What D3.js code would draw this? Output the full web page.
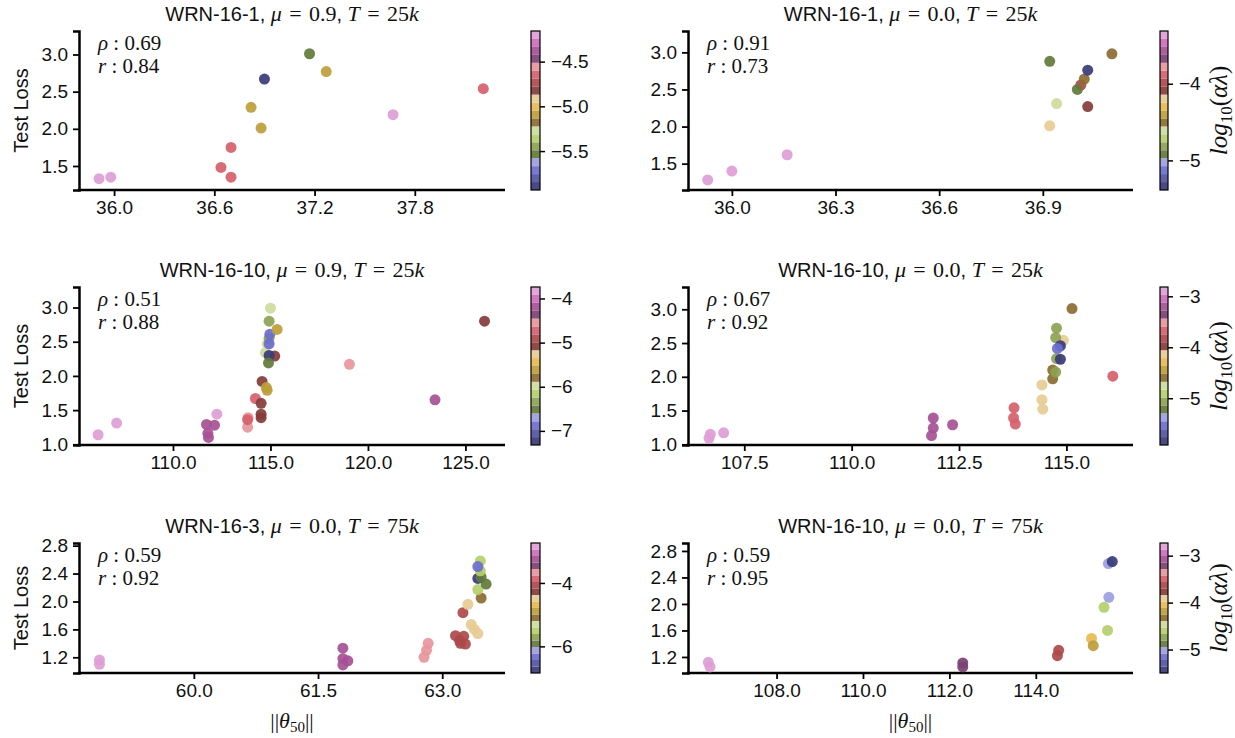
<!DOCTYPE html>
<html>
<head>
<meta charset="utf-8">
<script src="https://cdn.jsdelivr.net/npm/d3@7"></script>
<style>
  body { margin: 0; background: #fff; }
  svg text { font-family: "Liberation Sans", Arial, sans-serif; fill: #111; }
  .serif { font-family: "Liberation Serif", "Times New Roman", serif; }
</style>
</head>
<body>
<svg id="chart" width="1235" height="738"></svg>
<script>
// matplotlib tab20b, index 0 = bottom of the colour bar
const tab20b = ["#393b79", "#5254a3", "#6b6ecf", "#9c9ede", "#637939", "#8ca252", "#b5cf6b", "#cedb9c",
                "#8c6d31", "#bd9e39", "#e7ba52", "#e7cb94", "#843c39", "#ad494a", "#d6616b", "#e7969c",
                "#7b4173", "#a55194", "#ce6dbd", "#de9ed6"];

// WRN-16-1, mu = 0.9, T = 25k
const p1Norm  = [35.91, 35.98, 36.64, 36.70, 36.70, 36.82, 36.88, 36.90, 37.17, 37.27, 37.67, 38.21];
const p1Loss  = [1.33, 1.35, 1.48, 1.35, 1.75, 2.29, 2.01, 2.67, 3.01, 2.77, 2.19, 2.54];
const p1LogAL = [-4.20, -4.20, -4.65, -4.65, -4.65, -5.09, -5.09, -5.89, -5.54, -5.09, -4.20, -4.65];

// WRN-16-1, mu = 0.0, T = 25k
const p2Norm  = [35.93, 36.00, 36.16, 36.92, 36.92, 36.94, 37.01, 37.00, 37.02, 37.03, 37.03, 37.10];
const p2Loss  = [1.28, 1.40, 1.62, 2.88, 2.01, 2.31, 2.56, 2.50, 2.64, 2.76, 2.27, 2.98];
const p2LogAL = [-3.36, -3.36, -3.36, -4.92, -4.19, -4.61, -3.99, -4.92, -4.51, -5.33, -4.09, -4.51];

// WRN-16-10, mu = 0.9, T = 25k
const p3Norm  = [106.16, 107.11, 112.25, 111.72, 111.79, 111.82, 112.13, 113.83, 113.85, 113.83, 114.23,
                 114.52, 114.52, 114.52, 114.57, 114.83, 114.79, 114.74, 115.22, 114.93, 114.90, 114.83,
                 114.93, 114.97, 114.93, 115.34, 114.93, 115.00, 119.05, 123.44, 125.98];
const p3Loss  = [1.14, 1.31, 1.44, 1.29, 1.16, 1.10, 1.28, 1.25, 1.39, 1.36, 1.67,
                 1.39, 1.44, 1.60, 1.92, 1.79, 1.83, 2.34, 2.29, 2.30, 2.19, 2.47,
                 2.55, 2.61, 2.47, 2.68, 2.80, 2.99, 2.17, 1.65, 2.80];
const p3LogAL = [-3.83, -3.83, -3.83, -4.19, -4.19, -4.19, -4.19, -4.55, -4.55, -4.73, -4.73,
                 -5.08, -5.08, -5.08, -5.08, -5.62, -5.62, -5.98, -5.08, -7.23, -6.52, -5.98,
                 -6.34, -6.87, -6.87, -5.62, -6.34, -5.98, -4.55, -4.19, -5.08];

// WRN-16-10, mu = 0.0, T = 25k
const p4Norm  = [106.68, 106.71, 107.02, 111.90, 111.90, 111.86, 112.35, 113.78, 113.77, 113.81,
                 114.43, 114.43, 114.45, 114.68, 114.68, 114.75, 114.93, 114.77, 114.86, 114.77,
                 114.75, 114.86, 114.79, 115.13, 116.08];
const p4Loss  = [1.09, 1.15, 1.17, 1.39, 1.24, 1.13, 1.29, 1.54, 1.39, 1.30,
                 1.88, 1.66, 1.52, 1.97, 2.10, 2.07, 2.54, 2.27, 2.26, 2.72,
                 2.58, 2.46, 2.42, 3.01, 2.01];
const p4LogAL = [-2.90, -2.90, -2.90, -3.21, -3.21, -3.21, -3.21, -3.67, -3.67, -3.67,
                 -4.14, -4.14, -4.14, -4.60, -4.60, -5.07, -4.14, -5.07, -5.84, -5.07,
                 -5.07, -5.84, -5.53, -4.60, -3.67];

// WRN-16-3, mu = 0.0, T = 75k
const p5Norm  = [58.86, 58.86, 61.80, 61.80, 61.86, 61.80, 62.83, 62.81, 62.78,
                 63.16, 63.21, 63.28, 63.26, 63.22, 63.25, 63.31, 63.35, 63.39, 63.43,
                 63.47, 63.43, 63.53, 63.43, 63.47, 63.46, 63.46, 63.43];
const p5Loss  = [1.16, 1.10, 1.33, 1.18, 1.15, 1.09, 1.40, 1.30, 1.20,
                 1.51, 1.44, 1.39, 1.50, 1.40, 1.84, 1.96, 1.67, 1.60, 1.54,
                 2.05, 2.17, 2.25, 2.33, 2.35, 2.44, 2.58, 2.50];
const p5LogAL = [-2.84, -2.84, -3.25, -3.25, -3.25, -3.25, -3.66, -3.66, -3.66,
                 -4.07, -4.07, -4.07, -4.07, -4.07, -4.07, -4.48, -4.48, -4.48, -4.48,
                 -5.10, -5.51, -5.92, -6.74, -5.92, -5.51, -5.51, -6.33];

// WRN-16-10, mu = 0.0, T = 75k
const p6Norm  = [106.42, 106.46, 112.31, 112.31, 114.53, 114.50, 115.29, 115.33, 115.66, 115.58, 115.69, 115.68, 115.77];
const p6Loss  = [1.12, 1.05, 1.11, 1.05, 1.30, 1.22, 1.48, 1.37, 1.60, 1.95, 2.10, 2.61, 2.64];
const p6LogAL = [-2.80, -2.80, -3.22, -3.22, -3.63, -3.63, -4.05, -4.18, -4.60, -4.60, -5.02, -5.02, -5.43];

const titles  = [["WRN-16-1", "0.9", "25"], ["WRN-16-1", "0.0", "25"], ["WRN-16-10", "0.9", "25"],
                 ["WRN-16-10", "0.0", "25"], ["WRN-16-3", "0.0", "75"], ["WRN-16-10", "0.0", "75"]];
const rhoVals = ["0.69", "0.91", "0.51", "0.67", "0.59", "0.59"];
const rVals   = ["0.84", "0.73", "0.88", "0.92", "0.92", "0.95"];

const xTicks  = [[36.0, 36.6, 37.2, 37.8], [36.0, 36.3, 36.6, 36.9], [110, 115, 120, 125],
                 [107.5, 110, 112.5, 115], [60, 61.5, 63], [108, 110, 112, 114]];
const yTicks  = [[1.5, 2.0, 2.5, 3.0], [1.5, 2.0, 2.5, 3.0], [1.0, 1.5, 2.0, 2.5, 3.0],
                 [1.0, 1.5, 2.0, 2.5, 3.0], [1.2, 1.6, 2.0, 2.4, 2.8], [1.2, 1.6, 2.0, 2.4, 2.8]];
const cTicks  = [[-5.5, -5.0, -4.5], [-5, -4], [-7, -6, -5, -4], [-5, -4, -3], [-6, -4], [-5, -4, -3]];

// axis limits
const xLims = [[35.79, 38.34], [35.873, 37.161], [105.18, 127.03], [106.19, 116.55], [58.613, 63.758], [105.95, 116.25]];
const yLims = [[1.177, 3.316], [1.145, 3.288], [0.99, 3.30], [0.99, 3.33], [0.975, 2.838], [0.958, 2.92]];
const cLims = [[-5.935, -4.158], [-5.386, -3.312], [-7.32, -3.74], [-5.918, -2.817], [-6.84, -2.74], [-5.5, -2.73]];

const series = [
    [p1Norm, p1Loss, p1LogAL], [p2Norm, p2Loss, p2LogAL], [p3Norm, p3Loss, p3LogAL],
    [p4Norm, p4Loss, p4LogAL], [p5Norm, p5Loss, p5LogAL], [p6Norm, p6Loss, p6LogAL]
];

// layout in pixels
const cols = [{left: 79, right: 505, cb: 531, cbw: 9}, {left: 688, right: 1133, cb: 1160, cbw: 8}];
const rows = [{top: 31, bottom: 190}, {top: 287, bottom: 445}, {top: 543, bottom: 673}];

const svg = d3.select("#chart");
const fmt1 = d3.format(".1f");

series.forEach((s, i) =>
{
    const col = cols[i % 2], row = rows[Math.floor(i / 2)];
    const g = svg.append("g");

    const x = d3.scaleLinear().domain(xLims[i]).range([col.left, col.right]);
    const y = d3.scaleLinear().domain(yLims[i]).range([row.bottom, row.top]);
    const c = d3.scaleLinear().domain(cLims[i]).range([row.bottom, row.top]);
    const colour = v => {
        let k = Math.floor((v - cLims[i][0]) / (cLims[i][1] - cLims[i][0]) * 20);
        return tab20b[Math.max(0, Math.min(19, k))];
    };

    // axes, left and bottom spines only
    const xAxis = g.append("g")
        .attr("transform", `translate(0,${row.bottom})`)
        .call(d3.axisBottom(x).tickValues(xTicks[i]).tickFormat(fmt1).tickSizeOuter(0).tickSize(6).tickPadding(5));
    const yAxis = g.append("g")
        .attr("transform", `translate(${col.left},0)`)
        .call(d3.axisLeft(y).tickValues(yTicks[i]).tickFormat(fmt1).tickSizeOuter(0).tickSize(6).tickPadding(5));
    [xAxis, yAxis].forEach(a => {
        a.select(".domain").attr("stroke", "#000").attr("stroke-width", 2.5);
        a.selectAll(".tick line").attr("stroke", "#000").attr("stroke-width", 1.8);
        a.selectAll(".tick text").attr("font-size", 19).attr("fill", "#111");
    });
    xAxis.select(".domain").attr("d", `M${col.left - 1.25},0H${col.right}`);

    // points
    g.append("g")
        .selectAll("circle")
        .data(s[0].map((v, k) => ({n: v, l: s[1][k], a: s[2][k]})))
        .enter().append("circle")
            .attr("cx", d => x(d.n))
            .attr("cy", d => y(d.l))
            .attr("r", 5.5)
            .attr("fill", d => colour(d.a))
            .attr("fill-opacity", 0.92);

    // title
    const t = g.append("text")
        .attr("x", (col.left + col.right) / 2)
        .attr("y", row.top - 10)
        .attr("text-anchor", "middle")
        .attr("font-size", 20);
    t.append("tspan").text(titles[i][0] + ", ");
    t.append("tspan").attr("class", "serif").attr("font-style", "italic").attr("font-size", 22).text("μ");
    t.append("tspan").attr("class", "serif").attr("font-size", 22).text("\u2004=\u2004" + titles[i][1]);
    t.append("tspan").text(", ");
    t.append("tspan").attr("class", "serif").attr("font-style", "italic").attr("font-size", 22).text("T");
    t.append("tspan").attr("class", "serif").attr("font-size", 22).text("\u2004=\u2004" + titles[i][2]);
    t.append("tspan").attr("class", "serif").attr("font-style", "italic").attr("font-size", 22).text("k");

    // correlation text
    [["ρ", rhoVals[i], 19], ["r", rVals[i], 42]].forEach(([sym, val, dy]) => {
        const tt = g.append("text").attr("class", "serif")
            .attr("x", col.left + 19).attr("y", row.top + dy).attr("font-size", 21);
        tt.append("tspan").attr("font-style", "italic").text(sym);
        tt.append("tspan").text(" : " + val);
    });

    // colour bar
    const cb = g.append("g");
    const step = (cLims[i][1] - cLims[i][0]) / 20;
    cb.selectAll("rect.bin")
        .data(tab20b)
        .enter().append("rect")
            .attr("class", "bin")
            .attr("x", col.cb)
            .attr("width", col.cbw)
            .attr("y", (d, k) => c(cLims[i][0] + (k + 1) * step))
            .attr("height", (d, k) => c(cLims[i][0] + k * step) - c(cLims[i][0] + (k + 1) * step))
            .attr("fill", d => d)
            .attr("fill-opacity", 0.92);
    cb.append("rect")
        .attr("x", col.cb).attr("y", row.top)
        .attr("width", col.cbw).attr("height", row.bottom - row.top)
        .attr("fill", "none").attr("stroke", "#000").attr("stroke-width", 1.2);
    const cAxis = cb.append("g")
        .attr("transform", `translate(${col.cb + col.cbw},0)`)
        .call(d3.axisRight(c).tickValues(cTicks[i]).tickFormat(i === 0 ? fmt1 : d3.format("d")).tickSize(5).tickPadding(6));
    cAxis.select(".domain").remove();
    cAxis.selectAll(".tick line").attr("stroke", "#000").attr("stroke-width", 1.5);
    cAxis.selectAll(".tick text").attr("font-size", 19).attr("fill", "#111");

    if (i % 2 === 1)
    {
        const cl = g.append("text").attr("class", "serif")
            .attr("transform", `translate(${col.cb + 67},${(row.top + row.bottom) / 2}) rotate(-90)`)
            .attr("text-anchor", "middle")
            .attr("font-size", 25);
        cl.append("tspan").attr("font-style", "italic").text("log");
        cl.append("tspan").attr("font-size", 17).attr("dy", 5).text("10");
        cl.append("tspan").attr("dy", -5).text("(");
        cl.append("tspan").attr("font-style", "italic").text("αλ");
        cl.append("tspan").text(")");
    }
    else
    {
        g.append("text")
            .attr("transform", `translate(28,${(row.top + row.bottom) / 2}) rotate(-90)`)
            .attr("text-anchor", "middle")
            .attr("font-size", 20)
            .text("Test Loss");
    }

    if (i >= 4)
    {
        const xl = g.append("text").attr("class", "serif")
            .attr("x", (col.left + col.right) / 2).attr("y", 728)
            .attr("text-anchor", "middle").attr("font-size", 22);
        xl.append("tspan").text("||");
        xl.append("tspan").attr("font-style", "italic").text("θ");
        xl.append("tspan").attr("font-size", 15).attr("dy", 4).text("50");
        xl.append("tspan").attr("dy", -4).text("||");
    }
});
</script>
</body>
</html>
